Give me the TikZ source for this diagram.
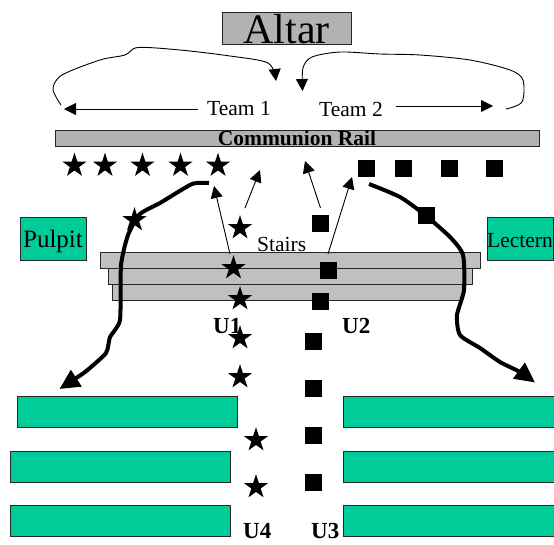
\documentclass[tikz,border=0pt]{standalone}
\usepackage{fontspec}
\setmainfont{Liberation Serif}
\usetikzlibrary{arrows.meta,positioning,shapes.geometric}

\definecolor{railgrey}{HTML}{B2B2B2}
\definecolor{stairgrey}{HTML}{C0C0C0}
\definecolor{pewgreen}{HTML}{00CC99}

\tikzset{
  box/.style={draw=black!85,line width=0.9pt,inner sep=0pt,outer sep=0pt},
  stairbox/.style={box,fill=stairgrey},
  pew/.style={box,fill=pewgreen,minimum width=220pt,minimum height=31pt},
  starmark/.style={star,star points=5,star point ratio=2.62,fill=black,inner sep=0pt,minimum size=25.6pt},
  squaremark/.style={rectangle,fill=black,inner sep=0pt,minimum size=17pt},
  label/.style={inner sep=0pt,font=\fontsize{21.5}{24}\selectfont,anchor=base west},
  ulabel/.style={label,font=\fontsize{23}{26}\selectfont\bfseries},
  thin/.style={line width=0.9pt,-{Triangle[length=12pt,width=12pt]}},
  thick/.style={line width=4pt,-{Triangle[length=20pt,width=19pt]}},
}

\begin{document}
\begin{tikzpicture}[x=1pt,y=-1pt,on grid]
    \useasboundingbox (0,0) rectangle (554,544);
    % front of the church
    \node[box,fill=railgrey,minimum width=129pt,text height=31.3pt,text depth=0.7pt,font=\fontsize{42}{46}\selectfont] (altar) at (286.5,28) {Altar};
    \node[box,fill=railgrey,minimum width=484pt,text height=15.7pt,text depth=0.3pt,font=\fontsize{21.5}{24}\selectfont\bfseries] (rail) at (297,138) {Communion Rail};
    \node[box,fill=pewgreen,minimum width=66pt,text height=30pt,text depth=13pt,font=\fontsize{25}{28}\selectfont] (pulpit) at (53,238.5) {Pulpit};
    \node[box,fill=pewgreen,minimum width=66pt,text height=30pt,text depth=13pt,font=\fontsize{21.5}{24}\selectfont] (lectern) at (520,238.5) {Lectern};
    % stairs
    \node[stairbox,minimum width=350pt,minimum height=16pt] (stair_3) at (287,292) {};
    \node[stairbox,minimum width=364pt,minimum height=16pt] (stair_2) at (290,276) {};
    \node[stairbox,minimum width=380pt,minimum height=16pt] (stair_1) at (290,260) {};
    % pews
    \node[pew] (pew_l1) at (127,411.5) {};
    \node[pew] (pew_l2) at (120,466.5) {};
    \node[pew] (pew_l3) at (120,521) {};
    \node[pew] (pew_r1) at (453,411.5) {};
    \node[pew] (pew_r2) at (453,466.5) {};
    \node[pew] (pew_r3) at (453,521) {};
    % texts
    \node[label] (team_1) at (207,115) {Team 1};
    \node[label] (team_2) at (319,116.5) {Team 2};
    \node[label] (stairs) at (257,251) {Stairs};
    \node[ulabel] (u_1) at (213,333.5) {U1};
    \node[ulabel] (u_2) at (342,333.5) {U2};
    \node[ulabel] (u_3) at (311,538.5) {U3};
    \node[ulabel] (u_4) at (243,538.5) {U4};
    % team 1
    \node[starmark] (s_1) at (74.5,165.5) {};
    \node[starmark] (s_2) [right=30.5pt of s_1] {};
    \node[starmark] (s_3) [right=37.5pt of s_2] {};
    \node[starmark] (s_4) [right=38pt of s_3] {};
    \node[starmark] (s_5) [right=37.5pt of s_4] {};
    \node[starmark] (s_6) at (134.5,220) {};
    \node[starmark] (s_7) at (240,228) {};
    \node[starmark] (s_8) at (233.5,268) {};
    \node[starmark] (s_9) at (240,299) {};
    \node[starmark] (s_10) at (240,338) {};
    \node[starmark] (s_11) at (240,377) {};
    \node[starmark] (s_12) at (256,440) {};
    \node[starmark] (s_13) at (256,487) {};
    % team 2
    \node[squaremark] (b_1) at (366,168.5) {};
    \node[squaremark] (b_2) [right=37.5pt of b_1] {};
    \node[squaremark] (b_3) [right=45.5pt of b_2] {};
    \node[squaremark] (b_4) [right=45.5pt of b_3] {};
    \node[squaremark] (b_5) at (426.5,215.5) {};
    \node[squaremark] (b_6) at (320.5,223.5) {};
    \node[squaremark] (b_7) at (328,270) {};
    \node[squaremark] (b_8) at (320.5,301.5) {};
    \node[squaremark] (b_9) at (313,341) {};
    \node[squaremark] (b_10) at (313,388) {};
    \node[squaremark] (b_11) at (313,435) {};
    \node[squaremark] (b_12) at (313,482) {};
    % free ends
    \coordinate (t1_start) at (198,109);
    \coordinate (t1_tip) at (64,109);
    \coordinate (t2_start) at (396,106);
    \coordinate (t2_tip) at (493,106);
    \coordinate (a_start) at (230,254);
    \coordinate (a_tip) at (214,186);
    \coordinate (c_start) at (245,208);
    \coordinate (c_tip) at (260,170);
    \coordinate (d_start) at (320.5,208);
    \coordinate (d_tip) at (305,161);
    \coordinate (e_start) at (328,254);
    \coordinate (e_tip) at (352,177);
    \coordinate (l1_start) at (61,105);
    \coordinate (l1_tip) at (276,81);
    \coordinate (l2_start) at (506,109);
    \coordinate (l2_tip) at (302.5,91);
    \coordinate (q1_start) at (209,183);
    \coordinate (q1_tip) at (59.5,389);
    \coordinate (q2_start) at (369,184);
    \coordinate (q2_tip) at (535,382.5);
    \draw[thin] (t1_start) -- (t1_tip);
    \draw[thin] (t2_start) -- (t2_tip);
    \draw[thin] (a_start) -- (a_tip);
    \draw[thin] (c_start) -- (c_tip);
    \draw[thin] (d_start) -- (d_tip);
    \draw[thin] (e_start) -- (e_tip);
    \draw[thin] plot[smooth,tension=0.5] coordinates {(l1_start) (53,89) (62,75) (100,60) (125,55) (138,47.5) (180,50) (230,56) (268,63) (l1_tip)};
    \draw[thin] plot[smooth,tension=0.5] coordinates {(l2_start) (522,102) (523,80) (510,70) (470,60) (420,55) (380,54) (340,52) (312,57) (303,68) (l2_tip)};
    \draw[thick] plot[smooth,tension=0.35] coordinates {(q1_start) (192,184) (160,203) (140,214) (128,235) (121,265) (120,320) (110,337) (106,353) (85,372) (q1_tip)};
    \draw[thick] plot[smooth,tension=0.4] coordinates {(q2_start) (400,197) (425,215) (450,237) (463,255) (464,290) (457,315) (460,335) (480,348) (500,362) (520,372) (q2_tip)};
\end{tikzpicture}
\end{document}
